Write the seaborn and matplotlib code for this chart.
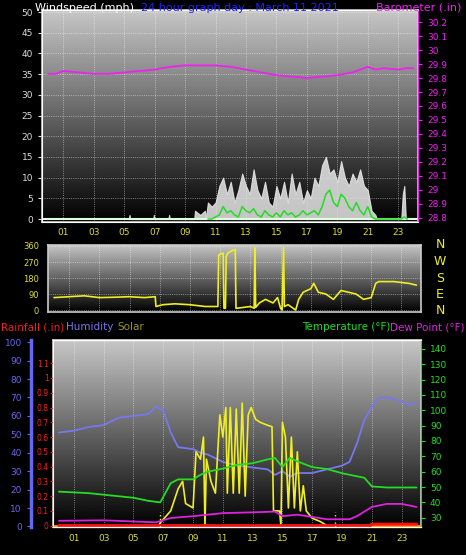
import numpy as np
import pandas as pd
import matplotlib
matplotlib.use("Agg")
import matplotlib.pyplot as plt
import seaborn as sns

# ---- data ----
HOUR_TICKS = [1, 3, 5, 7, 9, 11, 13, 15, 17, 19, 21, 23]
HOUR_LABELS = ["01", "03", "05", "07", "09", "11", "13", "15", "17", "19", "21", "23"]

baro_t = [0, 0.5, 1, 2, 3, 4, 5, 6, 7, 8, 9, 10, 11, 12, 13, 14, 15, 16, 17, 18, 19, 20, 21, 21.5, 22, 23, 23.5, 24]
baro_v = [29.83, 29.83, 29.85, 29.84, 29.83, 29.83, 29.84, 29.85, 29.86, 29.88, 29.89, 29.89, 29.89, 29.88, 29.86,
          29.84, 29.82, 29.81, 29.80, 29.81, 29.82, 29.84, 29.88, 29.86, 29.87, 29.86, 29.87, 29.87]

gust_t = [5.3, 5.35, 5.4, 6.9, 6.95, 7.0, 7.9, 7.95, 8.0, 9.6, 9.65, 10.0, 10.3, 10.35,
          10.5, 10.75, 11.0, 11.25, 11.5, 11.75, 12.0, 12.25, 12.5, 12.75, 13.0, 13.25, 13.5, 13.75,
          14.0, 14.25, 14.5, 14.75, 15.0, 15.25, 15.5, 15.75, 16.0, 16.25, 16.5, 16.75, 17.0, 17.25,
          17.5, 17.75, 18.0, 18.25, 18.5, 18.75, 19.0, 19.25, 19.5, 19.75, 20.0, 20.25, 20.5, 20.75,
          21.0, 21.25, 21.5, 21.6, 23.2, 23.3, 23.4, 23.5]
gust_v = [0, 1, 0, 0, 1, 0, 0, 1, 0, 0, 2, 1, 2, 0,
          4, 3, 4, 8, 10, 6, 9, 4, 7, 11, 8, 6, 12, 7,
          5, 9, 4, 3, 8, 5, 9, 4, 11, 6, 9, 4, 7, 5,
          10, 8, 13, 15, 11, 12, 9, 14, 10, 8, 11, 9, 12, 8,
          7, 2, 1, 0, 0, 6, 8, 0]

avg_t = [10.5, 10.75, 11.0, 11.25, 11.5, 11.75, 12.0, 12.25, 12.5, 12.75, 13.0, 13.25, 13.5, 13.75,
         14.0, 14.25, 14.5, 14.75, 15.0, 15.25, 15.5, 15.75, 16.0, 16.25, 16.5, 16.75, 17.0, 17.25,
         17.5, 17.75, 18.0, 18.25, 18.5, 18.75, 19.0, 19.25, 19.5, 19.75, 20.0, 20.25, 20.5, 20.75,
         21.0, 21.25, 21.5, 23.2, 23.4, 23.6]
avg_v = [0, 0, 0.5, 1, 3, 1.5, 2, 1, 0.5, 3, 2, 1.5, 2.5, 1,
         0.5, 2, 1, 0.5, 1.5, 0.5, 2, 1, 1.5, 0.5, 1, 2, 1, 1.5,
         2, 1, 3, 6, 7, 4, 3, 6, 5, 3, 2, 4, 2, 1,
         3, 0.5, 0, 0, 0.5, 0]

wd_t = [0, 1, 2, 3, 4, 5, 6, 6.7, 6.75, 7.2, 8, 9, 10, 10.5, 10.85, 10.9, 11.2, 11.25, 11.35, 11.4,
        11.5, 11.7, 12.0, 12.05, 12.1, 13.0, 13.25, 13.3, 13.35, 13.6, 14.0, 14.5, 14.8, 15.0, 15.1,
        15.2, 15.25, 15.5, 16.0, 16.2, 16.5, 17.0, 17.2, 17.5, 18.0, 18.5, 19.0, 19.5, 20.0, 20.5,
        21.0, 21.3, 21.5, 22.5, 23.5, 24]
wd_v = [70, 75, 80, 70, 72, 75, 70, 75, 20, 30, 35, 30, 20, 20, 20, 310, 320, 10, 10, 300,
        320, 330, 340, 10, 10, 20, 10, 350, 15, 40, 60, 40, 70, 10, 0,
        350, 20, 30, 0, 60, 100, 120, 150, 100, 90, 60, 110, 100, 90, 60,
        70, 150, 160, 160, 150, 140]

hum_t = [0, 1, 2, 3, 4, 5, 6, 6.5, 7, 7.5, 8, 9, 9.5, 10, 11, 12, 13, 14, 14.5, 15, 15.5, 16, 17,
         18, 19, 19.5, 20, 20.5, 21, 21.5, 22, 23, 23.5, 24]
hum_v = [51, 52, 54, 55, 59, 60, 61, 65, 63, 51, 43, 42, 40, 39, 35, 33, 32, 31, 28, 30, 27, 29, 29,
         31, 33, 35, 45, 58, 65, 70, 70, 68, 66, 67]

temp_t = [0, 2, 3, 5, 6, 6.8, 7.5, 8, 9, 9.5, 10, 11, 12, 13, 14, 14.5, 15, 15.5, 16, 17, 18, 19,
          20, 20.5, 21, 22, 24]
temp_v = [47, 46, 45, 43, 41, 40, 52.5, 55, 55, 58, 60, 62, 64.5, 65.5, 68, 69, 63, 69, 66.7, 63,
          61.7, 59, 57, 56, 50.4, 49.7, 49.7]

dew_t = [0, 3, 6.5, 7.5, 9, 11, 13, 14.5, 15, 16, 17, 18, 19.5, 20, 21, 22, 23, 24]
dew_v = [28, 28.3, 27, 29.8, 31, 33, 33.5, 34, 31, 32, 30.5, 29, 29, 31, 37, 39, 39, 37]

solar_t = [0, 6.7, 6.8, 7.5, 8, 8.3, 8.5, 9, 9.2, 9.5, 9.7, 9.8, 9.9, 10.2, 10.5, 10.8, 11, 11.2,
           11.3, 11.5, 11.7, 11.9, 12.1, 12.3, 12.5, 12.7, 12.9, 13.2, 13.5, 14, 14.3, 14.4, 14.8,
           14.9, 15, 15.2, 15.4, 15.6, 15.8, 16, 16.2, 16.4, 16.6, 17, 17.5, 18, 24]
solar_v = [0, 0, 0.02, 0.1, 0.25, 0.3, 0.15, 0.12, 0.5, 0.45, 0.6, 0, 0.45, 0.3, 0.22, 0.75, 0.6, 0.8,
           0.22, 0.8, 0.22, 0.79, 0.22, 0.83, 0.2, 0.75, 0.8, 0.72, 0.7, 0.68, 0.67, 0.1, 0.1,
           0, 0.7, 0.6, 0.12, 0.6, 0.12, 0.5, 0.1, 0.27, 0.1, 0.05, 0.03, 0, 0]

rain_t = [0, 20.9, 21.0, 24]
rain_v = [0, 0, 0.01, 0.01]

# ---- figure ----
W, H = 466, 555
fig = plt.figure(figsize=(W / 100, H / 100), dpi=100, facecolor="black")
sns.set_style("dark")
plt.rcParams["font.family"] = ["DejaVu Sans"]

TICK_FS = 6.5
XLIM = (-0.4, 24.3)
grad = np.linspace(0.78, 0.0, 256).reshape(-1, 1)


def px_axes(l, t, r, b):
    return fig.add_axes([l / W, 1 - b / H, (r - l) / W, (b - t) / H])


def style_panel(ax):
    ax.set_facecolor("black")
    ax.imshow(grad, cmap="gray", vmin=0, vmax=1, aspect="auto", extent=[0, 1, 0, 1],
              transform=ax.transAxes, zorder=0)
    ax.set_xlim(*XLIM)
    ax.set_xticks(HOUR_TICKS)
    ax.grid(True, color="white", linestyle=":", linewidth=0.6, alpha=0.6)
    for s in ax.spines.values():
        s.set_color("#cccccc")
        s.set_linewidth(1.2)
    ax.set_xlabel("")
    ax.set_ylabel("")


# top panel: wind speed + barometer
ax1 = px_axes(42, 10, 418, 222)
style_panel(ax1)
ax1.set_ylim(-0.72, 50.5)
ax1.set_yticks(range(0, 51, 5))
ax1.tick_params(axis="y", colors="#dddddd", labelsize=TICK_FS, length=3)
ax1.tick_params(axis="x", colors="#dddd33", labelsize=TICK_FS, length=0, pad=4)
ax1.set_xticklabels(HOUR_LABELS)
ax1.fill_between(gust_t, gust_v, color="#e8e8e8", alpha=0.85, linewidth=0.8, zorder=2)
ax1.axhline(0, color="#ddffdd", linewidth=1.5, zorder=2)
sns.lineplot(x=avg_t, y=avg_v, ax=ax1, color="#22dd22", linewidth=1.1, zorder=3)
ax1b = ax1.twinx()
ax1b.set_ylim(28.771, 30.286)
ax1b.set_yticks(np.round(np.arange(28.8, 30.21, 0.1), 1))
ax1b.set_yticklabels([f"{v:g}" for v in np.round(np.arange(28.8, 30.21, 0.1), 1)])
ax1b.tick_params(axis="y", colors="#ee22ee", labelsize=TICK_FS, length=3)
ax1b.spines["right"].set_color("#ee22ee")
sns.lineplot(x=baro_t, y=baro_v, ax=ax1b, color="#ee22ee", linewidth=1.3)
ax1b.set_xlim(*XLIM)
ax1b.set_ylabel("")

fig.text(35 / W, 1 - 8 / H, "Windspeed (mph)", color="white", fontsize=8, va="center")
fig.text(240 / W, 1 - 8 / H, "24 hour graph day : March 11 2021", color="#2222ff", fontsize=8,
         va="center", ha="center")
fig.text(461 / W, 1 - 8 / H, "Barometer (.in)", color="#ee22ee", fontsize=8, va="center", ha="right")

# middle panel: wind direction
ax2 = px_axes(48, 245, 421, 312)
style_panel(ax2)
ax2.set_ylim(-11, 365.6)
ax2.set_yticks([0, 90, 180, 270, 360])
ax2.set_xticklabels([])
ax2.tick_params(axis="x", length=0)
ax2.tick_params(axis="y", colors="#dddd33", labelsize=TICK_FS - 0.5, length=3)
sns.lineplot(x=wd_t, y=wd_v, ax=ax2, color="#eeee22", linewidth=1.2)
ax2.set_xlabel("")
ax2.set_ylabel("")
for i, c in enumerate(["N", "W", "S", "E", "N"]):
    fig.text(440 / W, 1 - (245 + i * 16.5) / H, c, color="#eeee22", fontsize=9, ha="center", va="center")

# bottom panel: humidity, rain, solar, temperature, dew point
ax3 = px_axes(53, 340, 421, 527)
style_panel(ax3)
ax3.set_ylim(-0.3, 101.2)
ax3.set_yticks([])
ax3.tick_params(axis="x", colors="#dddd33", labelsize=TICK_FS, length=0, pad=5)
ax3.set_xticklabels(HOUR_LABELS)
sns.lineplot(x=hum_t, y=hum_v, ax=ax3, color="#7777ee", linewidth=1.3)
ax3.set_xlabel("")
ax3.set_ylabel("")

# humidity scale on the far left
axh = ax3.twinx()
axh.set_ylim(-0.3, 101.2)
axh.yaxis.set_ticks_position("left")
axh.spines["left"].set_position(("outward", 16))
axh.spines["left"].set_color("#6666ee")
axh.spines["left"].set_linewidth(2.5)
axh.spines["right"].set_visible(False)
axh.set_yticks(range(0, 101, 10))
axh.tick_params(axis="y", colors="#6666ee", labelsize=TICK_FS, length=3)

axr = ax3.twinx()
axr.set_ylim(-0.009, 1.257)
axr.yaxis.set_ticks_position("left")
axr.spines["left"].set_color("#ee2222")
axr.spines["left"].set_linestyle(":")
axr.spines["right"].set_visible(False)
axr.set_yticks(np.round(np.arange(0, 1.11, 0.1), 1))
axr.set_yticklabels([f"{v:g}" for v in np.round(np.arange(0, 1.11, 0.1), 1)])
axr.tick_params(axis="y", colors="#ee2222", labelsize=5.5, length=2, pad=1)
sns.lineplot(x=solar_t, y=solar_v, ax=axr, color="#eeee22", linewidth=1.2)
axr.axhline(0, color="#ff9900", linewidth=2)
sns.lineplot(x=rain_t, y=rain_v, ax=axr, color="#ff1111", linewidth=2.2)
axr.axvline(6.75, ymax=0.08, color="#eeee22", linestyle=":", linewidth=1)
axr.axvline(18.5, ymax=0.08, color="#eeee22", linestyle=":", linewidth=1)
axr.set_ylabel("")

axt = ax3.twinx()
axt.set_ylim(23.95, 145.8)
axt.set_yticks(range(30, 141, 10))
axt.spines["right"].set_color("#22dd22")
axt.tick_params(axis="y", colors="#22dd22", labelsize=TICK_FS, length=3)
sns.lineplot(x=temp_t, y=temp_v, ax=axt, color="#22dd22", linewidth=1.3)
sns.lineplot(x=dew_t, y=dew_v, ax=axt, color="#dd22dd", linewidth=1.3)
axt.set_ylabel("")
for a in (axh, axr, axt):
    a.set_xlim(*XLIM)
    a.set_xlabel("")

hy = 1 - 327 / H
fig.text(1 / W, hy, "Rainfall (.in)", color="#ee2222", fontsize=7.5, va="center")
fig.text(66 / W, hy, "Humidity", color="#7777ee", fontsize=7.5, va="center")
fig.text(117 / W, hy, "Solar", color="#999922", fontsize=7.5, va="center")
fig.text(390 / W, hy, "Temperature (°F)", color="#22dd22", fontsize=7.5, va="center", ha="right")
fig.text(465 / W, hy, "Dew Point (°F)", color="#dd22dd", fontsize=7.5, va="center", ha="right")

fig.savefig("out.png", dpi=100, facecolor="black")
